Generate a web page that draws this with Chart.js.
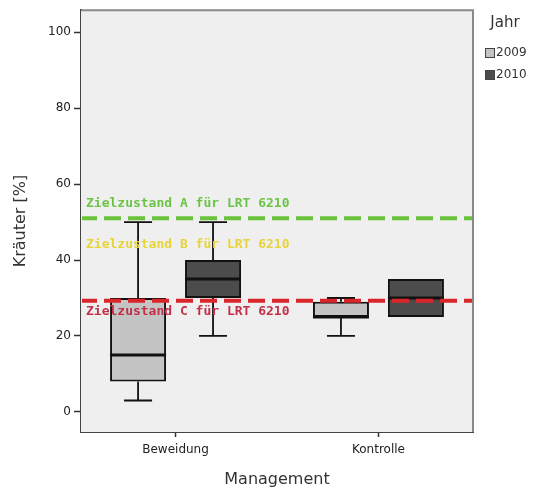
<!DOCTYPE html>
<html>
<head>
<meta charset="utf-8">
<script src="https://cdn.jsdelivr.net/npm/chart.js@4"></script>
<style>
  html, body { margin: 0; padding: 0; background: #ffffff; }
  #wrap { width: 537px; height: 494px; position: relative; }
</style>
</head>
<body>
<div id="wrap"><canvas id="c" width="537" height="494"></canvas></div>
<script>
// Management groups and survey years
const categories = ['Beweidung', 'Kontrolle'];
const years = ['2009', '2010'];

// Five-number summaries of herb cover (%), one entry per management group
const min2009    = [3, 20];
const q1_2009    = [8, 25];
const median2009 = [15, 25];
const q3_2009    = [30, 29];
const max2009    = [50, 30];

const min2010    = [20, 25];
const q1_2010    = [30, 25];
const median2010 = [35, 30];
const q3_2010    = [40, 35];
const max2010    = [50, 35];

const yTicks = [0, 20, 40, 60, 80, 100];

// Target states for habitat type 6210
const goalNames = ['Zielzustand A für LRT 6210', 'Zielzustand B für LRT 6210', 'Zielzustand C für LRT 6210'];
const goalValues = [51, 40, 29.3];
const goalLineShown = [true, false, true];

// ---- styling ----
const yearFill = ['#c4c4c4', '#4c4c4c'];
const goalLineColor = ['#69c43a', '#e8d630', '#d8262b'];
const goalTextColor = ['#6cc446', '#e6d43a', '#c43048'];
const goalTextShift = [-15, -15, 11];
const FONT = 'DejaVu Sans';

const summaries = [
  { min: min2009, q1: q1_2009, med: median2009, q3: q3_2009, max: max2009 },
  { min: min2010, q1: q1_2010, med: median2010, q3: q3_2010, max: max2010 }
];

const datasets = years.map((yr, i) => ({
  label: yr,
  data: categories.map((_, j) => ({ x: j, y: [summaries[i].q1[j], summaries[i].q3[j]] })),
  backgroundColor: yearFill[i],
  borderColor: '#111111',
  borderWidth: 2,
  borderSkipped: false,
  categoryPercentage: 0.739,
  barPercentage: 0.747
}));

// Plot panel background and frame
const panelPlugin = {
  id: 'panel',
  beforeDatasetsDraw(chart) {
    const { ctx, chartArea: a } = chart;
    ctx.save();
    ctx.fillStyle = '#efefef';
    ctx.fillRect(a.left, a.top, a.right - a.left, a.bottom - a.top);
    ctx.restore();
  },
  afterDraw(chart) {
    const { ctx, chartArea: a } = chart;
    ctx.save();
    ctx.strokeStyle = '#8a8a8a';
    ctx.lineWidth = 2;
    ctx.beginPath();
    ctx.moveTo(a.left, a.top);
    ctx.lineTo(a.right, a.top);
    ctx.lineTo(a.right, a.bottom);
    ctx.stroke();
    ctx.restore();
  }
};

// Whiskers and medians on top of the floating bars (the boxes)
const boxPlugin = {
  id: 'boxes',
  afterDatasetsDraw(chart) {
    const { ctx } = chart;
    const ys = chart.scales.y;
    ctx.save();
    ctx.strokeStyle = '#111111';
    summaries.forEach((s, i) => {
      const meta = chart.getDatasetMeta(i);
      meta.data.forEach((bar, j) => {
        const x = bar.x;
        const w = bar.width;
        const cap = w / 4;
        const yMin = ys.getPixelForValue(s.min[j]);
        const yQ1 = ys.getPixelForValue(s.q1[j]);
        const yQ3 = ys.getPixelForValue(s.q3[j]);
        const yMax = ys.getPixelForValue(s.max[j]);
        const yMed = ys.getPixelForValue(s.med[j]);
        ctx.lineWidth = 1.8;
        ctx.beginPath();
        if (s.max[j] > s.q3[j]) {
          ctx.moveTo(x, yQ3); ctx.lineTo(x, yMax);
          ctx.moveTo(x - cap, yMax); ctx.lineTo(x + cap, yMax);
        }
        if (s.min[j] < s.q1[j]) {
          ctx.moveTo(x, yQ1); ctx.lineTo(x, yMin);
          ctx.moveTo(x - cap, yMin); ctx.lineTo(x + cap, yMin);
        }
        ctx.stroke();
        ctx.lineWidth = 3;
        ctx.beginPath();
        ctx.moveTo(x - w / 2, yMed);
        ctx.lineTo(x + w / 2, yMed);
        ctx.stroke();
      });
    });
    ctx.restore();
  }
};

// Dashed target lines with their captions
const goalPlugin = {
  id: 'goals',
  afterDatasetsDraw(chart) {
    const { ctx, chartArea: a } = chart;
    const ys = chart.scales.y;
    ctx.save();
    goalValues.forEach((v, i) => {
      const y = ys.getPixelForValue(v);
      if (goalLineShown[i]) {
        ctx.strokeStyle = goalLineColor[i];
        ctx.lineWidth = 4;
        ctx.setLineDash([17, 7]);
        ctx.lineDashOffset = 2;
        ctx.beginPath();
        ctx.moveTo(a.left + 1, y);
        ctx.lineTo(a.right - 1, y);
        ctx.stroke();
      }
    });
    ctx.setLineDash([]);
    ctx.font = 'bold 13px "DejaVu Sans Mono"';
    ctx.textAlign = 'left';
    ctx.textBaseline = 'middle';
    goalValues.forEach((v, i) => {
      const y = ys.getPixelForValue(v) + goalTextShift[i];
      ctx.fillStyle = goalTextColor[i];
      ctx.fillText(goalNames[i], a.left + 5, y);
    });
    ctx.restore();
  }
};

// Legend titled "Jahr" to the right of the panel
const legendPlugin = {
  id: 'yearLegend',
  afterDraw(chart) {
    const { ctx, chartArea: a } = chart;
    const x0 = a.right + 12;
    ctx.save();
    ctx.fillStyle = '#333333';
    ctx.font = '15px ' + FONT;
    ctx.textAlign = 'center';
    ctx.textBaseline = 'middle';
    ctx.fillText('Jahr', x0 + 20, 23);
    ctx.font = '12px ' + FONT;
    ctx.textAlign = 'left';
    years.forEach((yr, i) => {
      const yc = 53 + i * 22;
      ctx.fillStyle = yearFill[i];
      ctx.fillRect(x0, yc - 4.5, 9, 9);
      ctx.strokeStyle = '#444444';
      ctx.lineWidth = 1;
      ctx.strokeRect(x0 + 0.5, yc - 4.5, 9, 9);
      ctx.fillStyle = '#333333';
      ctx.fillText(yr, x0 + 11, yc);
    });
    ctx.restore();
  }
};

new Chart(document.getElementById('c'), {
  type: 'bar',
  data: { datasets },
  options: {
    responsive: false,
    animation: false,
    devicePixelRatio: 1,
    layout: { padding: { left: 0, top: 10, right: 64, bottom: 0 } },
    plugins: { legend: { display: false }, tooltip: { enabled: false } },
    scales: {
      x: {
        type: 'linear',
        offset: false,
        min: -0.466,
        max: 1.466,
        afterBuildTicks: s => { s.ticks = categories.map((_, i) => ({ value: i })); },
        afterFit: s => { s.height = 62; },
        grid: { offset: false, drawOnChartArea: false, tickLength: 5, tickColor: '#333333', tickWidth: 1.5 },
        border: { display: true, color: '#444444', width: 2 },
        ticks: {
          callback: v => categories[v],
          font: { family: FONT, size: 12 },
          color: '#222222',
          padding: 6,
          maxRotation: 0,
          autoSkip: false
        },
        title: {
          display: true,
          text: 'Management',
          font: { family: FONT, size: 16 },
          color: '#333333',
          padding: { top: 0, bottom: 5 }
        }
      },
      y: {
        type: 'linear',
        min: -5.3,
        max: 105.8,
        afterBuildTicks: s => { s.ticks = yTicks.map(v => ({ value: v })); },
        afterFit: s => { s.width = 81; },
        grid: { drawOnChartArea: false, tickLength: 7, tickColor: '#333333', tickWidth: 1.5 },
        border: { display: true, color: '#444444', width: 2 },
        ticks: {
          font: { family: FONT, size: 12 },
          color: '#222222',
          padding: 3
        },
        title: {
          display: true,
          text: 'Kräuter [%]',
          font: { family: FONT, size: 16 },
          color: '#333333',
          padding: { top: 11, bottom: 0 }
        }
      }
    }
  },
  plugins: [panelPlugin, boxPlugin, goalPlugin, legendPlugin]
});
</script>
</body>
</html>
